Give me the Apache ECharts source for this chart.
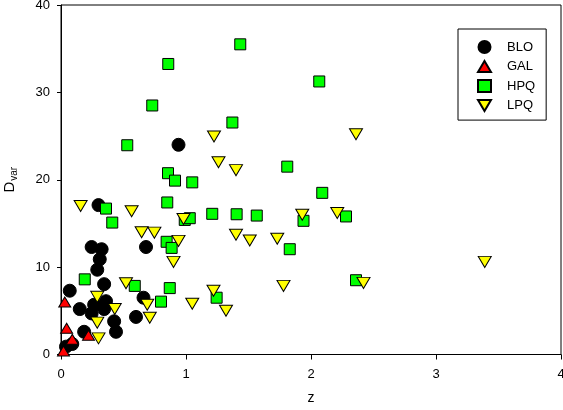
<!DOCTYPE html>
<html>
<head>
<meta charset="utf-8">
<script src="https://cdn.jsdelivr.net/npm/echarts@6/dist/echarts.min.js"></script>
<style>
  html, body { margin: 0; padding: 0; background: #fff; }
  #chart { width: 563px; height: 410px; }
</style>
</head>
<body>
<div id="chart"></div>
<script>
// values: [z, Dvar]
const bloPoints = [
  [0.94, 24.0], [0.30, 17.1], [0.245, 12.3], [0.325, 12.05], [0.31, 10.9],
  [0.29, 9.7], [0.345, 8.05], [0.68, 12.3], [0.07, 7.3], [0.15, 5.2],
  [0.265, 5.7], [0.36, 6.1], [0.245, 4.7], [0.345, 5.2], [0.425, 3.8],
  [0.44, 2.6], [0.60, 4.3], [0.66, 6.5], [0.185, 2.6], [0.09, 1.2],
  [0.04, 0.9]
]
const galPoints = [
  [0.03, 6.0], [0.045, 3.0], [0.09, 1.75], [0.22, 2.2], [0.02, 0.4]
]
const hpqPoints = [
  [1.434, 35.5], [0.858, 33.25], [2.066, 31.25], [0.73, 28.5], [1.371, 26.55],
  [0.53, 23.95], [0.856, 20.75], [0.912, 19.9], [1.05, 19.7], [1.81, 21.5],
  [2.09, 18.5], [0.85, 17.4], [0.36, 16.7], [0.41, 15.1], [1.21, 16.1],
  [1.405, 16.05], [1.566, 15.9], [0.99, 15.4], [1.03, 15.6], [1.94, 15.3],
  [2.28, 15.8], [0.845, 12.9], [0.885, 12.2], [1.83, 12.05], [0.19, 8.6],
  [0.59, 7.85], [0.87, 7.6], [0.80, 6.05], [2.36, 8.5], [1.245, 6.5]
]
const lpqPoints = [
  [0.157, 17.0], [0.565, 16.4], [0.645, 14.0], [0.747, 13.95], [0.94, 13.0],
  [0.90, 10.6], [0.52, 8.15], [0.29, 6.6], [0.43, 5.2], [0.69, 5.7],
  [0.29, 3.65], [0.71, 4.2], [0.30, 1.85], [1.05, 5.8], [0.98, 15.5],
  [1.224, 24.95], [1.26, 22.0], [1.40, 21.1], [2.36, 25.2], [1.40, 13.7],
  [1.51, 13.05], [1.73, 13.25], [1.93, 16.0], [2.21, 16.2], [1.78, 7.85],
  [2.42, 8.2], [1.22, 7.3], [1.32, 5.0], [3.39, 10.6]
]
const seriesNames = ['BLO', 'GAL', 'HPQ', 'LPQ']

const downTriangle = 'path://M0,0L20,0L10,17Z'
const upTriangle = 'path://M10,0L20,17L0,17Z'

const font = 'Liberation Sans, Arial, sans-serif'
const chart = echarts.init(document.getElementById('chart'))

const markStyle = (color) => ({ color: color, borderColor: '#000', borderWidth: 1, opacity: 1 })

chart.setOption({
  animation: false,
  grid: {
    left: 61, right: 2, top: 5, bottom: 55.5,
    outerBoundsMode: 'none',
    containLabel: false,
    show: true, borderColor: '#000', borderWidth: 1
  },
  legend: {
    orient: 'vertical',
    left: 458, top: 29,
    padding: [11, 11, 8, 19],
    itemWidth: 13, itemHeight: 12, itemGap: 6,
    borderColor: '#000', borderWidth: 1,
    textStyle: { fontFamily: font, fontSize: 13, color: '#000', padding: [0, 0, 0, 11] },
    data: [
      { name: 'BLO', icon: 'circle' },
      { name: 'GAL', icon: upTriangle },
      { name: 'HPQ', icon: 'rect' },
      { name: 'LPQ', icon: downTriangle }
    ]
  },
  xAxis: {
    type: 'value', min: 0, max: 4, interval: 1,
    name: 'z', nameLocation: 'middle', nameGap: 37,
    nameTextStyle: { fontFamily: font, fontSize: 14, color: '#000' },
    axisLine: { show: true, lineStyle: { color: '#000', width: 1 } },
    axisTick: { show: true, length: 5, lineStyle: { color: '#000' } },
    axisLabel: { fontFamily: font, fontSize: 13, color: '#000', margin: 13 },
    splitLine: { show: false }
  },
  yAxis: {
    type: 'value', min: 0, max: 40, interval: 10,
    name: '{a|D}{s|var}', nameLocation: 'middle', nameGap: 42,
    nameTextStyle: {
      rich: {
        a: { fontFamily: font, fontSize: 15, color: '#000' },
        s: { fontFamily: font, fontSize: 10, color: '#000', padding: [9, 0, 0, 1] }
      }
    },
    axisLine: { show: true, lineStyle: { color: '#000', width: 1 } },
    axisTick: { show: true, length: 4, lineStyle: { color: '#000' } },
    axisLabel: { fontFamily: font, fontSize: 13, color: '#000', margin: 11 },
    splitLine: { show: false }
  },
  series: [
    { name: seriesNames[0], type: 'scatter', data: bloPoints, symbol: 'circle', symbolSize: 13, itemStyle: markStyle('#000') },
    { name: seriesNames[1], type: 'scatter', data: galPoints, symbol: upTriangle, symbolSize: [12, 10], itemStyle: markStyle('#ff0000') },
    { name: seriesNames[2], type: 'scatter', data: hpqPoints, symbol: 'rect', symbolSize: 11, itemStyle: markStyle('#00ff00') },
    { name: seriesNames[3], type: 'scatter', data: lpqPoints, symbol: downTriangle, symbolSize: [13, 11], itemStyle: markStyle('#ffff00') }
  ]
})
</script>
</body>
</html>
